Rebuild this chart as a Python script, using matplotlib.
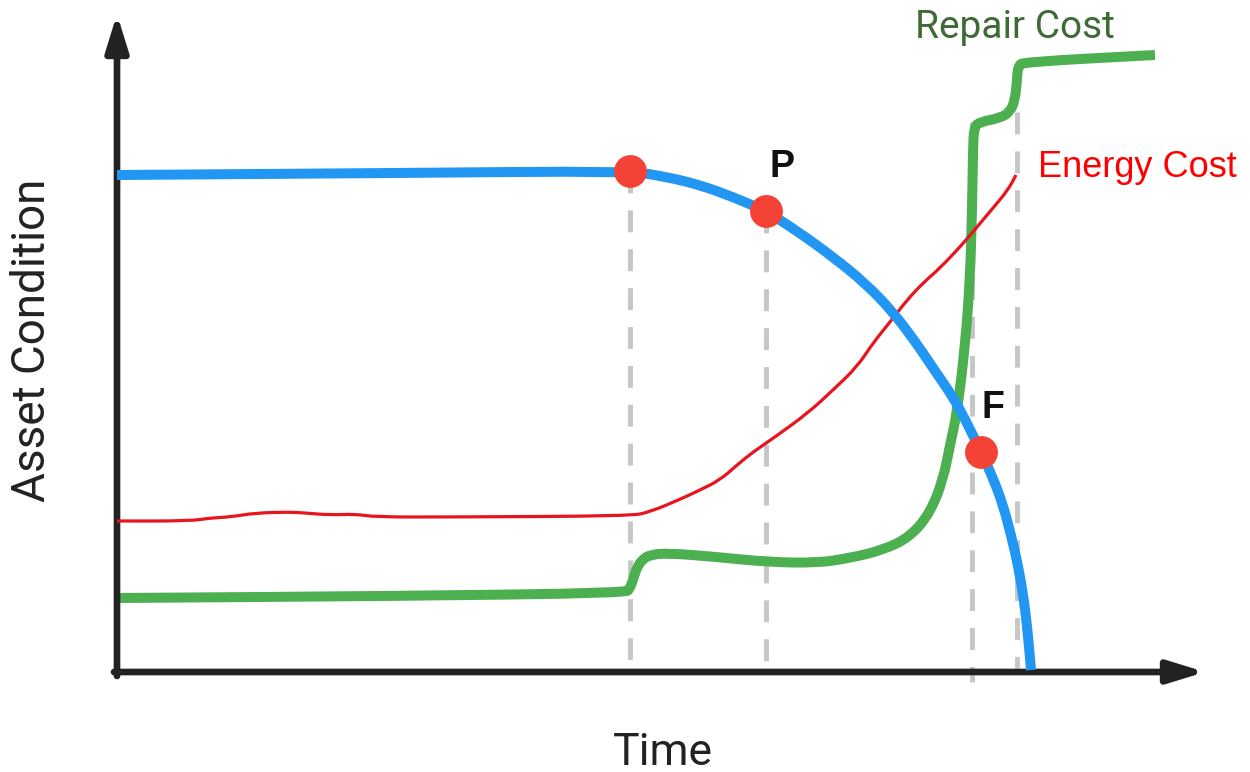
import matplotlib.pyplot as plt
from matplotlib.path import Path
from matplotlib.patches import PathPatch

# curves (pixel space, y grows downwards)
condition_x = [117, 400, 630, 667, 700, 733, 766, 800, 833, 865, 893, 917, 935, 953, 967, 981,
               993, 1003, 1011, 1018, 1024, 1028, 1031]
condition_y = [175, 173, 171, 177, 185, 197, 211, 233, 257, 283, 312, 344, 371, 397, 423, 452,
               478, 505, 535, 565, 600, 635, 670]

energy_x = [117, 190, 210, 230, 255, 290, 305, 330, 355, 375, 450, 630, 650, 683, 700, 720, 737,
            753, 775, 808, 833, 857, 873, 890, 907, 923, 940, 960, 977, 993, 1008, 1016]
energy_y = [521, 521, 518, 517, 513, 512, 513, 515, 514, 517, 517, 516, 512, 498, 490, 480, 465,
            452, 437, 413, 390, 367, 343, 322, 300, 283, 268, 247, 227, 208, 190, 175]

repair_x = [117, 400, 626, 630, 633, 637, 643, 650, 667, 717, 767, 817, 850, 883, 910, 930, 943,
            950, 957, 965, 970, 972, 973, 974, 980, 1000, 1010, 1015, 1017, 1018, 1024, 1155]
repair_y = [598, 596, 593, 588, 580, 567, 559, 555, 553, 557, 562, 563, 558, 550, 537, 513, 480,
            445, 413, 347, 280, 213, 150, 127, 122, 118, 112, 100, 80, 66, 62, 55]

points_x = [630, 766, 981]
points_y = [171, 211, 452]
point_labels = ['', 'P', 'F']
label_x = [0, 782, 993]
label_y = [0, 167, 408]

dash_x = [630, 766, 972, 1017]
dash_top = [171, 211, 122, 112]
dash_bottom = [674, 674, 682, 668]


def smooth_line(ax, xs, ys, **kw):
    # quadratic b-spline through the read points as control points
    pts = list(zip(xs, ys))
    verts = [pts[0]]
    codes = [Path.MOVETO]
    mid = lambda a, b: ((a[0] + b[0]) / 2, (a[1] + b[1]) / 2)
    verts.append(mid(pts[0], pts[1]))
    codes.append(Path.LINETO)
    for i in range(1, len(pts) - 1):
        verts += [pts[i], mid(pts[i], pts[i + 1])]
        codes += [Path.CURVE3, Path.CURVE3]
    verts.append(pts[-1])
    codes.append(Path.LINETO)
    ax.add_patch(PathPatch(Path(verts, codes), fill=False, capstyle='butt', joinstyle='round', **kw))


fig = plt.figure(figsize=(12.5, 7.72), dpi=100)
ax = fig.add_axes([0, 0, 1, 1])
ax.set_xlim(0, 1250)
ax.set_ylim(772, 0)
ax.axis('off')

# dashed guides
for x, t, b in zip(dash_x, dash_top, dash_bottom):
    ax.plot([x, x], [t, b], color='#c6c6c6', lw=3.5, ls=(0, (4.5, 3.5)), zorder=1)

# axes arrows
arrow = dict(arrowstyle='-|>,head_length=0.55,head_width=0.17', color='#222222', lw=4.8,
             mutation_scale=40, shrinkA=0, shrinkB=0)
ax.annotate('', xy=(117, 14), xytext=(117, 676), arrowprops=arrow)
ax.annotate('', xy=(1205, 672), xytext=(114, 672), arrowprops=arrow)

smooth_line(ax, energy_x, energy_y, edgecolor='#e8141e', lw=2.3, zorder=3)
smooth_line(ax, repair_x, repair_y, edgecolor='#4caf50', lw=7.2, zorder=2)
smooth_line(ax, condition_x, condition_y, edgecolor='#2196f3', lw=7.2, zorder=4)
ax.scatter(points_x, points_y, s=560, color='#f44336', zorder=5, linewidths=0)

for lab, x, y in zip(point_labels, label_x, label_y):
    if lab:
        ax.text(x, y, lab, fontsize=27, fontweight='bold', family='Liberation Sans',
                ha='center', va='center', color='#111111', zorder=6)

ax.text(915, 38, 'Repair Cost', fontsize=28, family='Roboto', ha='left', va='baseline',
        color='#3e6b35', zorder=6)
ax.text(1038, 177, 'Energy Cost', fontsize=26, family='Liberation Sans', ha='left',
        va='baseline', color='#ff0000', zorder=6)

ax.text(54, 340, 'Asset Condition', fontsize=33, family='Roboto', rotation=90, ha='right',
        va='center', color='#222222')
ax.text(663, 765, 'Time', fontsize=32, family='Roboto', ha='center', va='baseline',
        color='#222222')

fig.savefig('out.png', dpi=100)
